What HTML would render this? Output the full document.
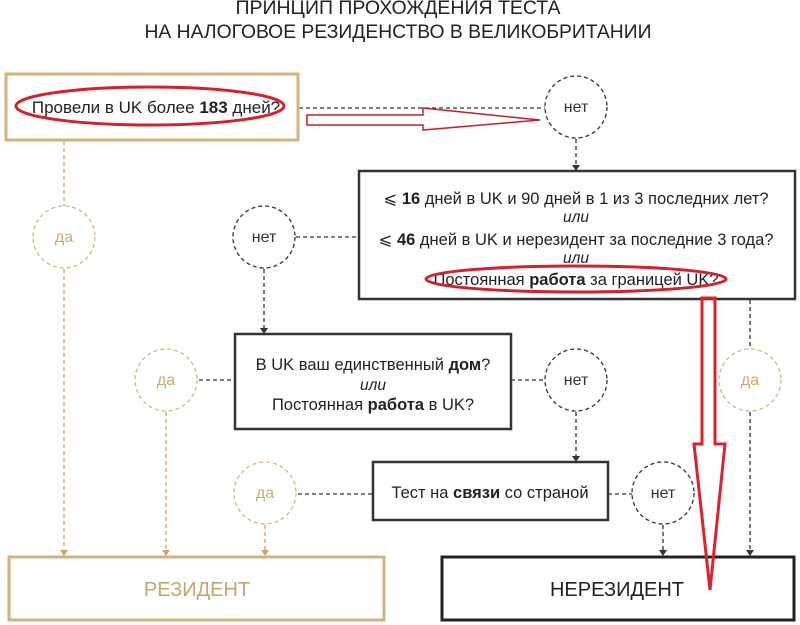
<!DOCTYPE html>
<html><head><meta charset="utf-8"><style>
html,body{margin:0;padding:0;background:#fff;width:800px;height:625px;overflow:hidden}
svg{display:block}
text{font-family:"Liberation Sans",sans-serif}
</style></head><body>
<svg width="800" height="625" viewBox="0 0 800 625" xmlns="http://www.w3.org/2000/svg">
<text x="398" y="14" text-anchor="middle" font-size="19" fill="#222" textLength="325" lengthAdjust="spacingAndGlyphs">ПРИНЦИП ПРОХОЖДЕНИЯ ТЕСТА</text>
<text x="398" y="38" text-anchor="middle" font-size="19" fill="#222" textLength="507" lengthAdjust="spacingAndGlyphs">НА НАЛОГОВОЕ РЕЗИДЕНСТВО В ВЕЛИКОБРИТАНИИ</text>

<g fill="none" stroke-dasharray="4,3" stroke-width="1.3">
<g stroke="#333">
<line x1="299" y1="108" x2="545" y2="108"/>
<line x1="576" y1="139" x2="576" y2="168"/>
<line x1="296" y1="237" x2="358" y2="237"/>
<line x1="264" y1="269" x2="264" y2="331"/>
<line x1="511" y1="380" x2="545" y2="380"/>
<line x1="576" y1="412" x2="576" y2="459"/>
<line x1="199" y1="380" x2="235" y2="380"/>
<line x1="298" y1="494" x2="372" y2="494"/>
<line x1="608" y1="494" x2="632" y2="494"/>
<line x1="663" y1="525" x2="663" y2="553"/>
<line x1="750" y1="300" x2="750" y2="348"/>
<line x1="750" y1="412" x2="750" y2="553"/>
</g>
<g stroke="#c9a56e">
<line x1="64" y1="141" x2="64" y2="206"/>
<line x1="64" y1="269" x2="64" y2="553"/>
<line x1="166" y1="412" x2="166" y2="553"/>
<line x1="265" y1="525" x2="265" y2="553"/>
</g>
<g stroke="#333">
<circle cx="576" cy="107" r="31"/>
<circle cx="264" cy="237" r="31"/>
<circle cx="576" cy="380" r="31"/>
<circle cx="663" cy="493" r="31"/>
</g>
<g stroke="#d4b68a">
<circle cx="64" cy="237" r="31"/>
<circle cx="166" cy="380" r="31"/>
<circle cx="265" cy="493" r="31"/>
<circle cx="750" cy="380" r="31"/>
</g>
</g>
<g fill="#333">
<path d="M572,165 L580,165 L576,171 Z"/>
<path d="M260,328 L268,328 L264,334 Z"/>
<path d="M572,456 L580,456 L576,462 Z"/>
<path d="M659,550 L667,550 L663,556 Z"/>
<path d="M746,550 L754,550 L750,556 Z"/>
</g>
<g fill="#c9a56e">
<path d="M60,550 L68,550 L64,556 Z"/>
<path d="M162,550 L170,550 L166,556 Z"/>
<path d="M261,550 L269,550 L265,556 Z"/>
</g>
<g font-size="16" text-anchor="middle" fill="#333">
<text x="576" y="112">нет</text>
<text x="264" y="242">нет</text>
<text x="576" y="385">нет</text>
<text x="663" y="498">нет</text>
</g>
<g font-size="16" text-anchor="middle" fill="#d0aa70">
<text x="64" y="242">да</text>
<text x="166" y="385">да</text>
<text x="265" y="498">да</text>
<text x="750" y="385">да</text>
</g>

<rect x="6" y="74" width="292" height="66" fill="#fff" stroke="#d4b27f" stroke-width="3"/>
<text x="156" y="113" font-size="17" text-anchor="middle" fill="#222">Провели в UK более <tspan font-weight="bold">183</tspan> дней?</text>
<ellipse cx="150" cy="106" rx="134" ry="19" fill="none" stroke="#d8202a" stroke-width="3"/>

<rect x="359" y="171" width="436" height="128" fill="#fff" stroke="#333" stroke-width="2.5"/>
<g font-size="16.5" text-anchor="middle" fill="#222">
<text x="576" y="204">⩽ <tspan font-weight="bold">16</tspan> дней в UK и 90 дней в 1 из 3 последних лет?</text>
<text x="576" y="222" font-style="italic" font-size="15.5">или</text>
<text x="576" y="245">⩽ <tspan font-weight="bold">46</tspan> дней в UK и нерезидент за последние 3 года?</text>
<text x="576" y="263" font-style="italic" font-size="15.5">или</text>
<text x="576" y="285">Постоянная <tspan font-weight="bold">работа</tspan> за границей UK?</text>
</g>
<ellipse cx="576" cy="279" rx="150" ry="13" fill="none" stroke="#d8202a" stroke-width="3"/>

<rect x="235" y="334" width="276" height="95" fill="#fff" stroke="#333" stroke-width="2.5"/>
<g font-size="16.5" text-anchor="middle" fill="#222">
<text x="373" y="370">В UK ваш единственный <tspan font-weight="bold">дом</tspan>?</text>
<text x="373" y="390" font-style="italic" font-size="15.5">или</text>
<text x="373" y="410">Постоянная <tspan font-weight="bold">работа</tspan> в UK?</text>
<text x="490" y="498">Тест на <tspan font-weight="bold">связи</tspan> со страной</text>
</g>
<rect x="373" y="462" width="235" height="58" fill="none" stroke="#333" stroke-width="2.5"/>

<rect x="9" y="557" width="375" height="63" fill="#fff" stroke="#d4b27f" stroke-width="3"/>
<text x="197" y="596" font-size="20" text-anchor="middle" fill="#c9a56e">РЕЗИДЕНТ</text>
<rect x="442" y="557" width="352" height="63" fill="#fff" stroke="#222" stroke-width="3"/>
<text x="617" y="596" font-size="20" text-anchor="middle" fill="#222">НЕРЕЗИДЕНТ</text>

<path d="M307,115 L423,115 L423,108 L540,120 L423,130 L423,125 L307,125 Z" fill="none" stroke="#c8202a" stroke-width="1.5"/>
<path d="M702,298 L715,298 L715,444 L725,444 L710,590 L694,444 L702,444 Z" fill="none" stroke="#e0202a" stroke-width="3"/>
</svg>
</body></html>
